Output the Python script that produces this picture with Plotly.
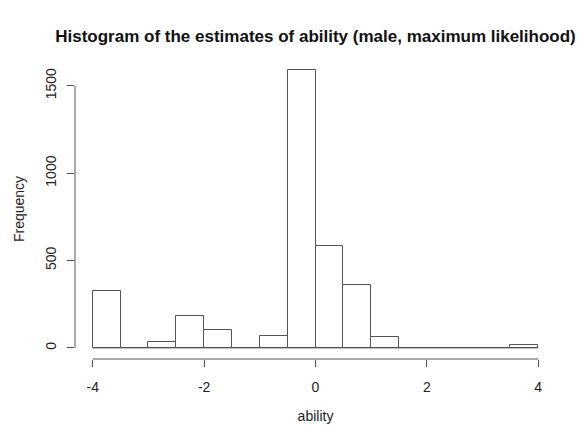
import plotly.graph_objects as go

# Histogram bin edges (width 0.5) and counts
bin_edges = [-4.0, -3.5, -3.0, -2.5, -2.0, -1.5, -1.0, -0.5, 0.0, 0.5, 1.0, 1.5, 2.0, 2.5, 3.0, 3.5, 4.0]
counts = [328, 0, 34, 184, 100, 0, 69, 1590, 586, 360, 63, 0, 0, 0, 0, 17]
x_ticks = [-4, -2, 0, 2, 4]
y_ticks = [0, 500, 1000, 1500]

centers = [(a + b) / 2 for a, b in zip(bin_edges[:-1], bin_edges[1:])]
widths = [b - a for a, b in zip(bin_edges[:-1], bin_edges[1:])]

xmin, xmax = bin_edges[0], bin_edges[-1]
ymax = max(counts)
xpad = (xmax - xmin) * 0.04
ypad = ymax * 0.04

line_col = "#555555"
txt_col = "#222222"
font = "Liberation Sans, Arial, sans-serif"
fs = 14

fig = go.Figure()
fig.add_trace(go.Bar(
    x=centers, y=counts, width=widths,
    marker=dict(color="white", line=dict(color=line_col, width=1)),
    showlegend=False, hoverinfo="skip",
))

# Zero-height rectangles shown as baseline
fig.add_shape(type="line", xref="x", yref="y", x0=xmin, x1=xmax, y0=0, y1=0,
              line=dict(color=line_col, width=1))
# Axis lines spanning first to last tick (R style)
fig.add_shape(type="line", xref="x", yref="paper", x0=x_ticks[0], x1=x_ticks[-1], y0=0, y1=0,
              line=dict(color=line_col, width=1))
fig.add_shape(type="line", xref="paper", yref="y", x0=0, x1=0, y0=y_ticks[0], y1=y_ticks[-1],
              line=dict(color=line_col, width=1))

fig.update_layout(
    width=582, height=428,
    margin=dict(l=75, r=26, t=59, b=69),
    paper_bgcolor="white", plot_bgcolor="white",
    font=dict(family=font, size=fs, color=txt_col),
    bargap=0,
    title=dict(text="<b>Histogram of the estimates of ability (male, maximum likelihood)</b>",
               x=(75 + (582 - 26)) / 2 / 582, xanchor="center",
               y=1 - 36 / 428, yanchor="middle",
               font=dict(family=font, size=17, color="#111111")),
    xaxis=dict(range=[xmin - xpad, xmax + xpad], tickvals=x_ticks,
               ticktext=[str(v) for v in x_ticks],
               showgrid=False, zeroline=False, showline=False, automargin=False,
               ticks="outside", ticklen=7, tickcolor=line_col, tickwidth=1,
               ticklabelstandoff=8,
               tickfont=dict(size=fs, color=txt_col),
               title=dict(text="ability", font=dict(size=fs, color=txt_col), standoff=17)),
    yaxis=dict(range=[-ypad, ymax + ypad], tickvals=y_ticks,
               ticktext=[str(v) for v in y_ticks],
               showgrid=False, zeroline=False, showline=False, automargin=False,
               ticks="outside", ticklen=7, tickcolor=line_col, tickwidth=1,
               tickangle=-90, ticklabelstandoff=5,
               tickfont=dict(size=fs, color=txt_col),
               title=dict(text="Frequency", font=dict(size=fs, color=txt_col), standoff=15)),
)

fig.write_html("out.html")
